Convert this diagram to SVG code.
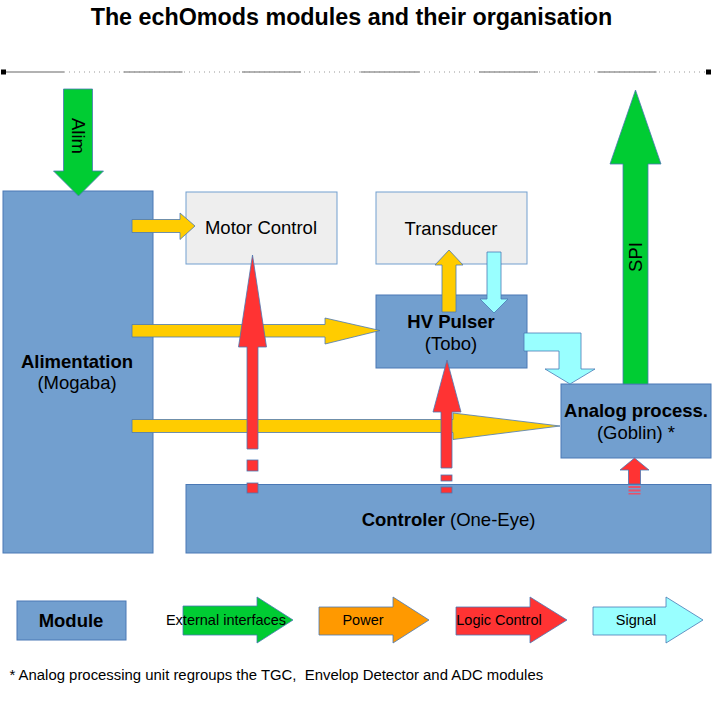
<svg xmlns="http://www.w3.org/2000/svg" width="712" height="702" viewBox="0 0 712 702">
<style>
text{font-family:"Liberation Sans",Arial,sans-serif;fill:#000}
.t{font-size:18.5px;text-anchor:middle}
.b{font-weight:bold}
.lg{font-size:14.5px;text-anchor:middle}
.mod{fill:#729fcf;stroke:#4a78b5;stroke-width:1}
.gry{fill:#eeeeee;stroke:#729fcf;stroke-width:1}
.ar{stroke:#4a78b5;stroke-width:0.8}
.y{fill:#ffcc00}
.g{fill:#00cc33}
.r{fill:#ff3333}
.c{fill:#99ffff}
.o{fill:#ff9900}
</style>
<rect width="712" height="702" fill="#fff"/>
<text x="351.5" y="25" style="font-size:23.3px;font-weight:bold;text-anchor:middle">The echOmods modules and their organisation</text>
<g id="topline">
<line x1="5" y1="72" x2="709" y2="72" stroke="#666" stroke-width="1.2" stroke-dasharray="59 59.5"/>
<line x1="64" y1="72" x2="709" y2="72" stroke="#999" stroke-width="1" stroke-dasharray="1 4"/>
<rect x="1" y="69.5" width="5" height="5" fill="#000"/>
<rect x="706" y="69.5" width="5" height="5" fill="#000"/>
</g>
<g id="alimentation">
<rect class="mod" x="3" y="191" width="150" height="362"/>
<text class="t b" x="77" y="368">Alimentation</text>
<text class="t" x="77" y="389">(Mogaba)</text>
</g>
<g id="motor-control">
<rect class="gry" x="186" y="192" width="151" height="72"/>
<text class="t" x="261" y="234">Motor Control</text>
</g>
<g id="transducer">
<rect class="gry" x="376" y="192" width="151" height="72"/>
<text class="t" x="451" y="235">Transducer</text>
</g>
<g id="hv-pulser">
<rect class="mod" x="376" y="295" width="151" height="73"/>
<text class="t b" x="451" y="328">HV Pulser</text>
<text class="t" x="451" y="350">(Tobo)</text>
</g>
<g id="controler">
<rect class="mod" x="186" y="484.5" width="525" height="68.5"/>
<text class="t" x="448.5" y="526"><tspan class="b">Controler</tspan> (One-Eye)</text>
</g>
<g id="analog">
<rect class="mod" x="561" y="384" width="150" height="74"/>
<text class="t b" x="636" y="417">Analog process.</text>
<text class="t" x="636" y="439">(Goblin) *</text>
</g>
<g id="connectors">
<polygon class="ar g" points="63.5,89 92.5,89 92.5,171 103.5,171 78.5,196 53.5,171 63.5,171"/>
<text class="t" transform="translate(72,136) rotate(90)">Alim</text>
<polygon class="ar y" points="132,219.5 180,219.5 180,213 195,226 180,239.5 180,232.5 132,232.5"/>
<polygon class="ar y" points="132,324.5 325,324.5 325,318 380,330.5 325,344 325,337 132,337"/>
<polygon class="ar y" points="132,419.5 453,419.5 453,413 560,426 453,439.5 453,432.5 132,432.5"/>
<polygon class="ar y" points="442,312 456,312 456,265 463,265 449,250 435,265 442,265"/>
<polygon class="ar c" points="487,252 501,252 501,299 508,299 494,313 480,299 487,299"/>
<polygon class="ar c" points="524,333 581,333 581,369 595,369 570,384 545,369 559,369 559,351 524,351"/>
<polygon class="ar g" points="623,384 648,384 648,164 661,164 635.5,90 610,164 623,164"/>
<text class="t" transform="translate(642,257) rotate(-90)">SPI</text>
<polygon class="ar r" points="247,449 247,347 238.5,347 252.5,255 266.5,347 258,347 258,449"/>
<rect class="ar r" x="247" y="460" width="11" height="11"/>
<rect class="ar r" x="247" y="483" width="11" height="10"/>
<polygon class="ar r" points="441,468 441,412 433,412 447,360 461,412 452,412 452,468"/>
<rect class="ar r" x="441" y="475" width="11" height="6"/>
<rect class="ar r" x="441" y="487" width="11" height="6"/>
<polygon class="ar r" points="628.5,484 628.5,470 620,470 634.5,458 649,470 640.5,470 640.5,484"/>
<rect fill="#e8506a" x="628.5" y="486" width="12" height="2"/>
<rect fill="#e8506a" x="628.5" y="489.5" width="12" height="2"/>
<rect fill="#e8506a" x="628.5" y="493" width="12" height="1.5"/>
</g>
<g id="legend">
<rect class="mod" x="17" y="601" width="109" height="39"/>
<text class="t b" x="71" y="627">Module</text>
<polygon class="ar g" points="183,606 257,606 257,597 293,620 257,643 257,635 183,635"/>
<text class="lg" x="226" y="625">External interfaces</text>
<polygon class="ar o" points="319,607 393,607 393,597 429,620 393,643 393,635 319,635"/>
<text class="lg" x="363" y="625">Power</text>
<polygon class="ar r" points="456,607 530,607 530,597 567,620 530,643 530,635 456,635"/>
<text class="lg" x="499" y="625">Logic Control</text>
<polygon class="ar c" points="593,607 666,607 666,597 703,620 666,643 666,635 593,635"/>
<text class="lg" x="636" y="625">Signal</text>
</g>
<text x="9.5" y="680" style="font-size:14.9px;white-space:pre" xml:space="preserve">* Analog processing unit regroups the TGC,  Envelop Detector and ADC modules</text>
</svg>
